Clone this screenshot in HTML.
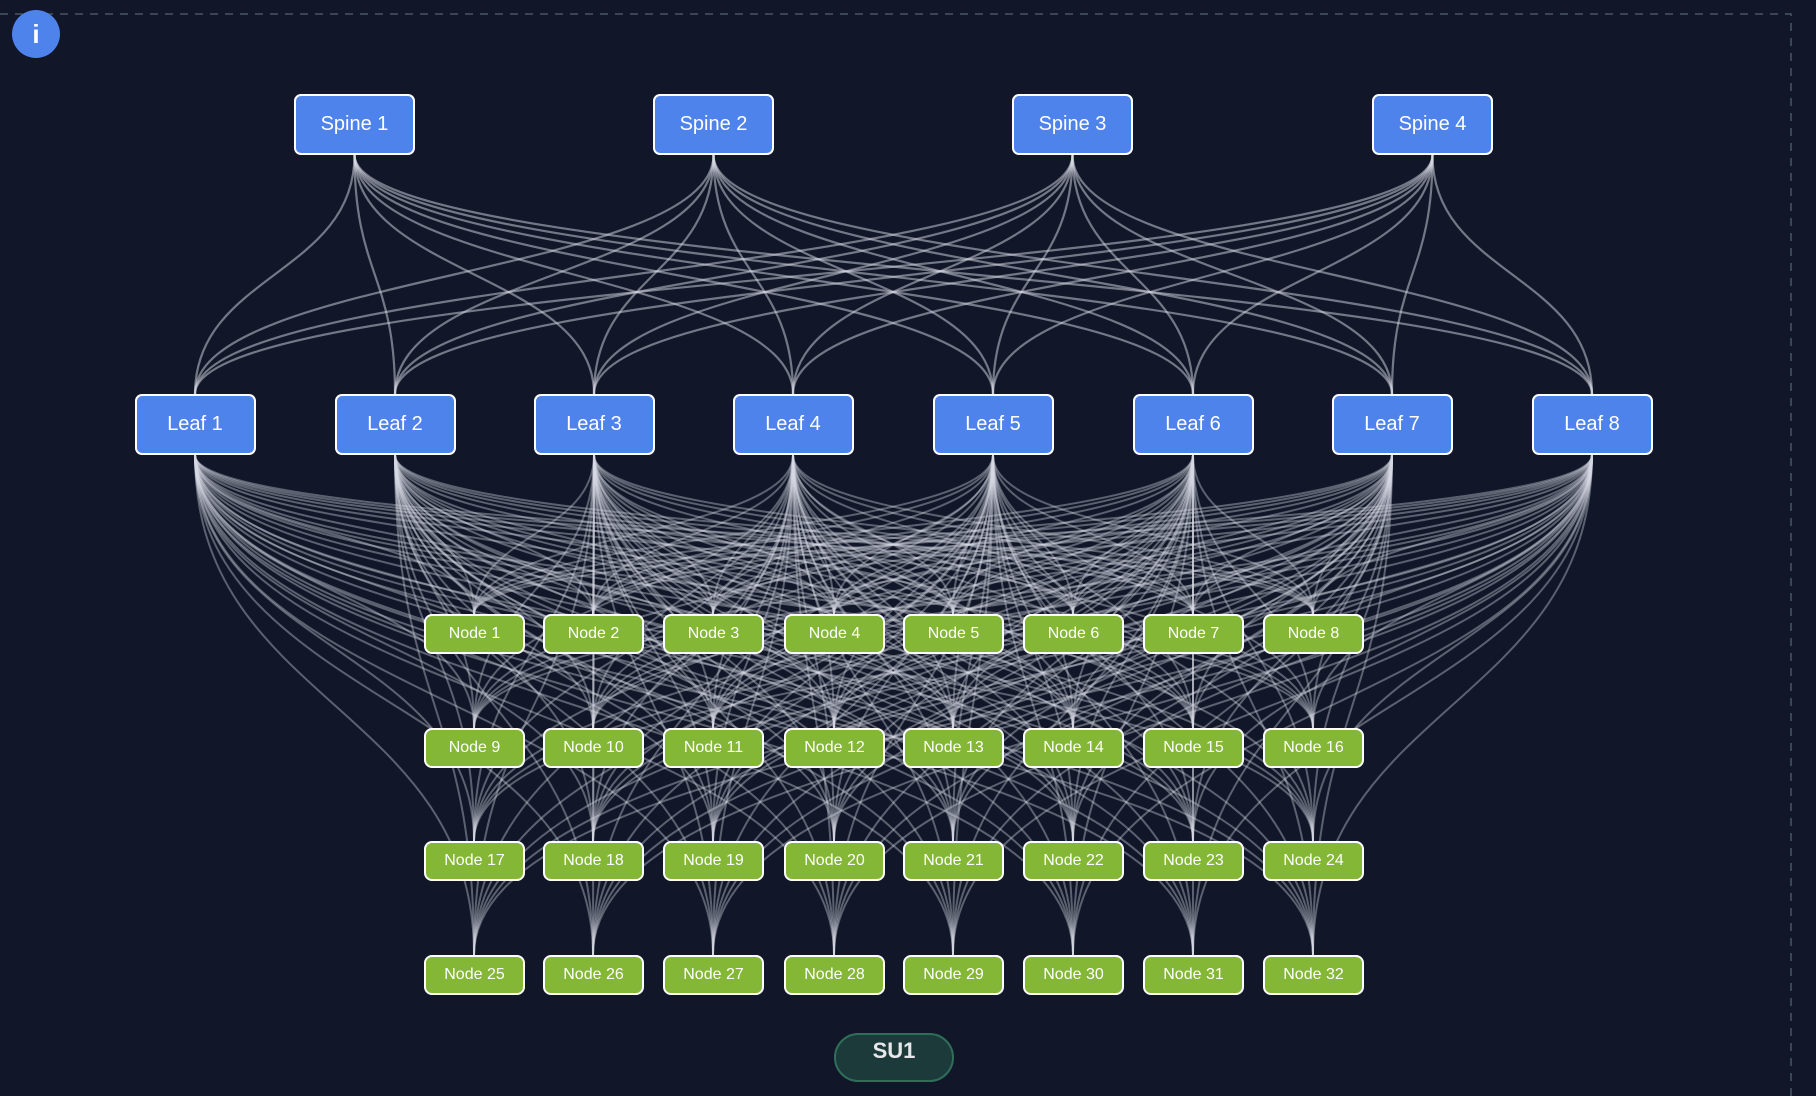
<!DOCTYPE html>
<html><head><meta charset="utf-8"><style>
html,body{margin:0;padding:0;background:#111729;}
body{width:1816px;height:1096px;position:relative;overflow:hidden;font-family:"Liberation Sans",sans-serif;}
.b{position:absolute;box-sizing:border-box;border:2px solid #fff;border-radius:7px;color:#fff;display:flex;align-items:center;justify-content:center;}
.s{background:#4f83ec;font-size:20px;width:121px;height:61px;}
.n{background:#83b735;font-size:16px;width:101px;height:40px;border-radius:8px;}
svg{position:absolute;left:0;top:0;}
</style></head><body>
<svg width="1816" height="1096" id="g">
<path d="M0 14 H1791 V1096" fill="none" stroke="#4b5563" stroke-width="1.5" stroke-dasharray="8 7"/>
</svg>
<div style="position:absolute;left:12px;top:10px;width:48px;height:48px;border-radius:50%;background:#4f83ec;color:#fff;font-size:26px;font-weight:bold;display:flex;align-items:center;justify-content:center;">i</div>
<div id="nodes"></div>
<div style="position:absolute;left:834px;top:1033px;width:120px;height:49px;box-sizing:border-box;border:2px solid #2f6f5a;border-radius:25px;background:#1c3a3a;color:#e5e7eb;font-weight:bold;font-size:22px;text-align:center;line-height:32px;">SU1</div>
<script>
var sp=[354.5,713.5,1072.5,1432.5],sy1=94,sy2=155;
var lf=[195,395,594,793,993,1193,1392,1592],ly1=394,ly2=455;
var nx=[474,593,713,834,953,1073,1193,1313],ny=[634,748,861,975];
var g=document.getElementById('g'),h='';
function c(x1,y1,x2,y2,op,w){var m=(y1+y2)/2;return '<path d="M'+x1+' '+y1+' C'+x1+' '+m+','+x2+' '+m+','+x2+' '+y2+'" fill="none" stroke="rgba(215,218,228,'+op+')" stroke-width="'+w+'"/>';}
sp.forEach(function(a){lf.forEach(function(b){h+=c(a,sy2,b,ly1,0.5,2.2);});});
lf.forEach(function(a){ny.forEach(function(y){nx.forEach(function(b){h+=c(a,ly2,b,y-20,0.38,2);});});});
g.insertAdjacentHTML('beforeend',h);
var d='';
var sl=['Spine 1','Spine 2','Spine 3','Spine 4'];
sp.forEach(function(x,i){d+='<div class="b s" style="left:'+(x-60.5)+'px;top:'+sy1+'px">'+sl[i]+'</div>';});
var ll=['Leaf 1','Leaf 2','Leaf 3','Leaf 4','Leaf 5','Leaf 6','Leaf 7','Leaf 8'];
lf.forEach(function(x,i){d+='<div class="b s" style="left:'+(x-60.5)+'px;top:'+ly1+'px">'+ll[i]+'</div>';});
document.getElementById('nodes').innerHTML=d;
</script>
<div class="b n" style="left:424px;top:614px">Node 1</div>
<div class="b n" style="left:543px;top:614px">Node 2</div>
<div class="b n" style="left:663px;top:614px">Node 3</div>
<div class="b n" style="left:784px;top:614px">Node 4</div>
<div class="b n" style="left:903px;top:614px">Node 5</div>
<div class="b n" style="left:1023px;top:614px">Node 6</div>
<div class="b n" style="left:1143px;top:614px">Node 7</div>
<div class="b n" style="left:1263px;top:614px">Node 8</div>
<div class="b n" style="left:424px;top:728px">Node 9</div>
<div class="b n" style="left:543px;top:728px">Node 10</div>
<div class="b n" style="left:663px;top:728px">Node 11</div>
<div class="b n" style="left:784px;top:728px">Node 12</div>
<div class="b n" style="left:903px;top:728px">Node 13</div>
<div class="b n" style="left:1023px;top:728px">Node 14</div>
<div class="b n" style="left:1143px;top:728px">Node 15</div>
<div class="b n" style="left:1263px;top:728px">Node 16</div>
<div class="b n" style="left:424px;top:841px">Node 17</div>
<div class="b n" style="left:543px;top:841px">Node 18</div>
<div class="b n" style="left:663px;top:841px">Node 19</div>
<div class="b n" style="left:784px;top:841px">Node 20</div>
<div class="b n" style="left:903px;top:841px">Node 21</div>
<div class="b n" style="left:1023px;top:841px">Node 22</div>
<div class="b n" style="left:1143px;top:841px">Node 23</div>
<div class="b n" style="left:1263px;top:841px">Node 24</div>
<div class="b n" style="left:424px;top:955px">Node 25</div>
<div class="b n" style="left:543px;top:955px">Node 26</div>
<div class="b n" style="left:663px;top:955px">Node 27</div>
<div class="b n" style="left:784px;top:955px">Node 28</div>
<div class="b n" style="left:903px;top:955px">Node 29</div>
<div class="b n" style="left:1023px;top:955px">Node 30</div>
<div class="b n" style="left:1143px;top:955px">Node 31</div>
<div class="b n" style="left:1263px;top:955px">Node 32</div>
</body></html>
